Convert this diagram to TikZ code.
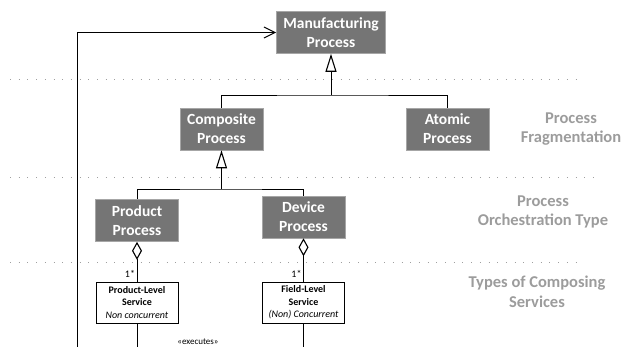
\documentclass[tikz,border=0pt]{standalone}
\usepackage{fontspec}
\setmainfont{Carlito}
\usetikzlibrary{arrows.meta}

\definecolor{boxgray}{HTML}{757575}
\definecolor{layergray}{HTML}{9C9C9C}

\begin{document}
\begin{tikzpicture}[x=1pt,y=-1pt,line width=1pt,
                    inherit/.style={-{Triangle[open,length=18pt,width=11pt,line width=1.1pt]}},
                    aggreg/.style={{Diamond[open,length=18pt,width=10pt,line width=1.1pt]}-}]

  \tikzstyle{procbox}=[fill=boxgray,draw=gray!70,line width=0.6pt,text=white,align=center,
                       minimum width=83pt,minimum height=42pt,inner xsep=7pt,
                       font=\bfseries\fontsize{15.5}{19}\selectfont]
  \tikzstyle{servbox}=[fill=white,draw=black,line width=0.9pt,align=center,
                       minimum width=82pt,minimum height=41pt,inner sep=2pt,
                       font=\fontsize{10}{12.5}\selectfont]
  \tikzstyle{layer}=[text=layergray,align=center,font=\bfseries\fontsize{16.5}{19.5}\selectfont]
  \tikzstyle{sep}=[draw=gray!75,line width=1pt,dash pattern=on 1pt off 7.7pt]

  \clip (0,0) rectangle (622,346);

  % layer separators
  \draw[sep] (10,79) -- (582,79);
  \draw[sep] (10,177) -- (595,177);
  \draw[sep] (10,262) -- (582,262);

  \node[procbox]  (MP)  at (331,32.5)   {Manufacturing\\Process};
  \node[procbox]  (CP)  at (221.5,129)  {Composite\\Process};
  \node[procbox]  (AP)  at (447.5,129)  {Atomic\\Process};
  \node[procbox]  (PP)  at (137,220.5)  {Product\\Process};
  \node[procbox]  (DP)  at (303.5,217)  {Device\\Process};
  \node[servbox]  (PLS) at (137,302.5)  {\textbf{Product-Level}\\\textbf{Service}\\\textit{Non concurrent}};
  \node[servbox]  (FLS) at (303.5,302.5){\textbf{Field-Level}\\\textbf{Service}\\\textit{(Non) Concurrent}};

  \node[layer] (L1) at (571,129) {Process\\Fragmentation};
  \node[layer] (L2) at (543,212) {Process\\Orchestration Type};
  \node[layer] (L3) at (537,292) {Types of Composing\\Services};

  \coordinate (J1) at (331,95);
  \coordinate (J2) at (221.5,189);
  \coordinate (E0) at (77,360);
  \coordinate (P0) at (137,360);
  \coordinate (F0) at (303.5,360);

  % generalisation trees
  \draw (CP.north) |- (J1) -| (AP.north);
  \draw[inherit] (J1) -- (MP.south);
  \draw (PP.north) |- (J2) -| (DP.north);
  \draw[inherit] (J2) -- (CP.south);

  % aggregations
  \draw[aggreg] (PP.south) -- (PLS.north)
        node[pos=0.8,left,inner sep=1.5pt,font=\fontsize{10}{11}\selectfont] {1*};
  \draw[aggreg] (DP.south) -- (FLS.north)
        node[pos=0.82,left,inner sep=1.5pt,font=\fontsize{10}{11}\selectfont] {1*};

  \draw (PLS.south) -- (P0);
  \draw (FLS.south) -- (F0);
  \draw[-{Straight Barb[length=11pt,width=11pt]}] (E0) |- (MP.west);

  \node[font=\fontsize{9}{11}\selectfont,anchor=base,inner sep=0pt] (EX) at (198,344.5) {«executes»};
\end{tikzpicture}
\end{document}
